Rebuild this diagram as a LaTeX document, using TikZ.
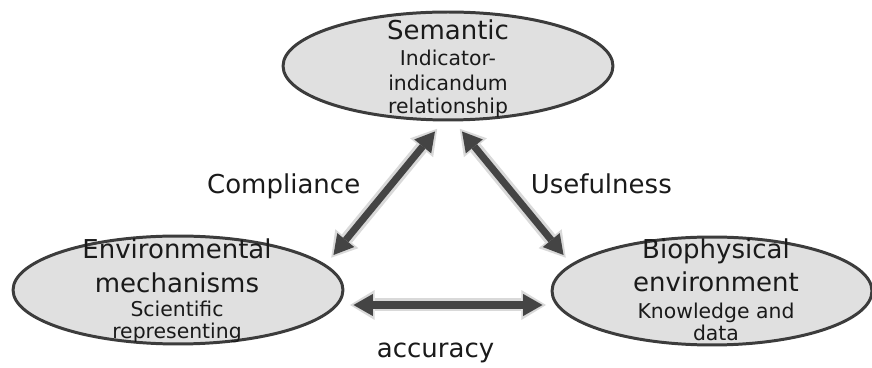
\documentclass[tikz,border=0pt]{standalone}
\usepackage{fontspec}
\setmainfont{DejaVu Sans}
\usetikzlibrary{shapes.geometric,arrows.meta}
\definecolor{ovalfill}{HTML}{E0E0E0}
\definecolor{ovaledge}{HTML}{3C3C3C}
\definecolor{linkdark}{HTML}{444444}
\definecolor{linkglow}{HTML}{D9D9D9}
\definecolor{inktext}{HTML}{1A1A1A}
\newcommand{\bigtxt}{\fontsize{14.8}{17}\selectfont}
\newcommand{\smalltxt}{\fontsize{11.6}{12.4}\selectfont}

\begin{document}
\begin{tikzpicture}[x=0.02cm, y=0.02cm,
    oval/.style={draw=ovaledge, fill=ovalfill, line width=1.7pt, ellipse, inner sep=0pt},
    ovaltext/.style={align=center, text=inktext, font=\smalltxt, inner sep=0pt},
    lbl/.style={text=inktext, font=\bigtxt, inner sep=0pt},
    link/.style={draw=linkdark, line width=4pt,
      {Triangle[length=11pt,width=12.5pt,line width=0pt]}-{Triangle[length=11pt,width=12.5pt,line width=0pt]},
      preaction={draw=linkglow, line width=7.4pt, shorten <=-2pt, shorten >=-2pt,
      {Triangle[length=14pt,width=17pt,line width=0pt]}-{Triangle[length=14pt,width=17pt,line width=0pt]}}}]
    \useasboundingbox (0,0) rectangle (872,368);

    % The three ovals
    \node[oval, minimum width=6.6cm, minimum height=2.16cm] (sem) at (448,302) {};
    \node[oval, minimum width=6.6cm, minimum height=2.16cm] (env) at (178,78) {};
    \node[oval, minimum width=6.4cm, minimum height=2.16cm] (bio) at (712,77) {};

    % Texts inside them (they run over the border)
    \node[ovaltext] (semtxt) at (448,299) {{\bigtxt Semantic}\\[2.4pt]Indicator-\\[1.8pt]indicandum\\[0.7pt]relationship};
    \node[ovaltext] (envtxt) at (177,77) {{\bigtxt Environmental}\\[6.9pt]{\bigtxt mechanisms}\\[1.3pt]Scientific\\representing};
    \node[ovaltext] (biotxt) at (716,78) {{\bigtxt Biophysical}\\[3.5pt]{\bigtxt environment}\\[3pt]Knowledge and\\data};

    % Double arrows with their labels
    \draw[link] ([shift={(-13,-10)}]sem.south) -- ([shift={(-11,35)}]env.east)
        node[lbl, midway, anchor=base east, xshift=-0.41cm] (compl) {Compliance};
    \draw[link] ([shift={(14,-10)}]sem.south) -- ([shift={(13,36)}]bio.west)
        node[lbl, midway, anchor=base west, xshift=0.29cm] (useful) {Usefulness};
    \draw[link] ([shift={(9,-15)}]env.east) -- ([shift={(-8,-14)}]bio.west)
        node[lbl, midway, anchor=base, xshift=-0.25cm, yshift=-1.06cm] (accur) {accuracy};

\end{tikzpicture}
\end{document}
